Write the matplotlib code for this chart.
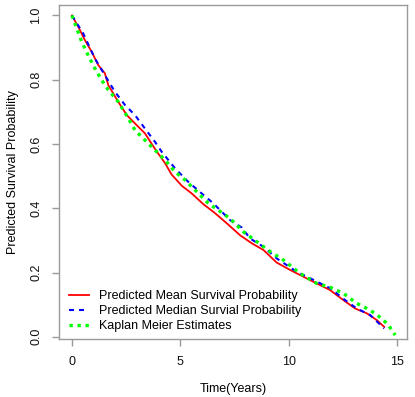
import numpy as np
import matplotlib
matplotlib.use("Agg")
import matplotlib.pyplot as plt

plt.rcParams['font.family'] = ['Liberation Sans', 'DejaVu Sans']

# Predicted mean survival probability
t_mean = [0.0, 0.29, 0.60, 0.91, 1.22, 1.52, 1.68, 2.14, 2.53, 2.91, 3.37, 3.83,
          4.30, 4.60, 5.07, 5.53, 6.06, 6.60, 7.15, 7.76, 8.30, 8.84, 9.45,
          10.07, 10.68, 11.30, 11.92, 12.53, 13.07, 13.61, 14.07, 14.41]
s_mean = [1.0, 0.965, 0.923, 0.887, 0.845, 0.820, 0.783, 0.731, 0.690, 0.664, 0.633, 0.585,
          0.540, 0.505, 0.470, 0.446, 0.413, 0.385, 0.353, 0.316, 0.291, 0.270, 0.231,
          0.208, 0.187, 0.166, 0.145, 0.114, 0.088, 0.073, 0.052, 0.031]

# Predicted median survival probability
t_med = [0.0, 0.52, 1.06, 1.52, 1.99, 2.45, 2.91, 3.37, 3.83, 4.14, 4.76, 5.37,
         5.99, 6.53, 7.30, 7.84, 8.22, 8.84, 9.45, 10.38, 11.0, 11.92, 12.61,
         13.15, 13.76, 14.41]
s_med = [1.0, 0.944, 0.866, 0.814, 0.762, 0.721, 0.690, 0.648, 0.607, 0.576, 0.524, 0.482,
         0.446, 0.415, 0.363, 0.340, 0.306, 0.280, 0.244, 0.202, 0.182, 0.151, 0.114,
         0.088, 0.068, 0.026]

# Kaplan Meier estimates
t_km = [0.0, 0.14, 0.45, 0.75, 1.06, 1.37, 1.68, 2.14, 2.60, 2.91, 3.37, 3.83,
        4.30, 4.76, 5.22, 5.84, 6.30, 6.80, 7.30, 7.91, 8.53, 9.15, 9.76, 10.53,
        11.30, 11.92, 12.53, 13.15, 13.76, 14.30, 14.61, 14.92]
s_km = [1.0, 0.975, 0.918, 0.876, 0.835, 0.799, 0.768, 0.731, 0.680, 0.643, 0.612, 0.581,
        0.550, 0.513, 0.488, 0.446, 0.415, 0.392, 0.368, 0.327, 0.296, 0.265, 0.239, 0.197,
        0.166, 0.154, 0.135, 0.104, 0.083, 0.057, 0.036, 0.005]

fig = plt.figure(figsize=(4.15, 3.97), dpi=100)
ax = fig.add_axes([0.142, 0.146, 0.839, 0.841])

ax.plot(t_mean, s_mean, color='#FF0000', lw=1.3, label='Predicted Mean Survival Probability')
ax.plot(t_med, s_med, color='#0000FF', lw=1.5, linestyle=(0, (2.4, 2.4)),
        label='Predicted Median Survial Probability')
ax.plot(t_km, s_km, color='#00FF00', lw=2.4, linestyle=(0, (1, 1.4)),
        label='Kaplan Meier Estimates')

ax.set_xlim(-0.6, 15.47)
ax.set_ylim(-0.007, 1.032)
ax.set_xticks([0, 5, 10, 15])
ax.set_yticks([0.0, 0.2, 0.4, 0.6, 0.8, 1.0])
ax.set_yticklabels(['0.0', '0.2', '0.4', '0.6', '0.8', '1.0'], rotation=90, va='center')

for s in ax.spines.values():
    s.set_color('#9a9a9a')
    s.set_linewidth(1.0)
ax.tick_params(colors='#9a9a9a', labelcolor='#111111', length=5, width=1.0,
               labelsize=9, pad=7)

ax.set_xlabel('Time(Years)', fontsize=9, labelpad=11)
ax.set_ylabel('Predicted Survival Probability', fontsize=9, labelpad=8)

ax.legend(loc='lower left', bbox_to_anchor=(0.03, 0.02), frameon=False, fontsize=9,
          handlelength=1.6, handletextpad=0.8, labelspacing=0.25,
          borderpad=0, borderaxespad=0)

fig.savefig('out.png', dpi=100)
